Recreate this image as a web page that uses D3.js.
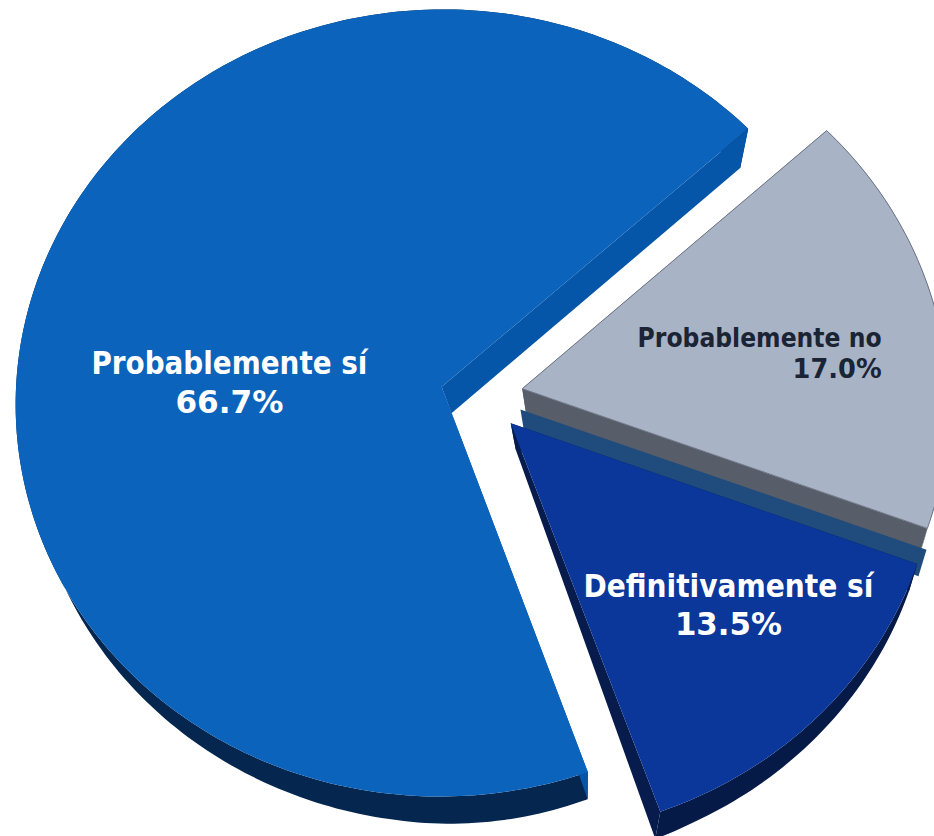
<!DOCTYPE html>
<html>
<head>
<meta charset="utf-8">
<script src="https://cdn.jsdelivr.net/npm/d3@7"></script>
<style>
html,body{margin:0;padding:0;background:#fff;}
svg{display:block;}
.lbl{font-family:Tahoma,"DejaVu Sans",sans-serif;font-weight:bold;}
</style>
</head>
<body>
<div id="chart"></div>
<script>
// data
const categories=['Probablemente sí','Probablemente no','Definitivamente no','Definitivamente sí'];
const values=[66.7,17.0,0,13.5];
const valueLabels=['66.7%','17.0%','','13.5%'];

// styles
const topColors=['#0b63bb','#a8b3c5','#1f4b7d','#0a3799'];
const wallColors=['#0556a9','#585e69','#1f4b7d','#071c4d'];
const rimColors=['#04264f','#5a606b','#1f4b7d','#061a48'];

const W=934,H=836;
const K=426,CX=481.7,CY=396,SINP=0.924,COSP=Math.sqrt(1-SINP*SINP),DIST=9.27,TH=0.16,EXPLODE=0.097;
const START=160.5*Math.PI/180;

// perspective-ish projection: X right, Y towards viewer, Z up
function proj(X,Y,Z){
  const w=1-Y*COSP/DIST, f=Z<0?-Z/TH:0;
  const sx=Math.max(-8,Math.min(14,30*(0.233-X)))*f, sy=20*Math.max(0,-Y)*f;
  return [CX+K*X/w+sx,CY+K*(Y*SINP-Z*COSP)/w+sy];
}

const rows=categories.map((c,i)=>({c,v:values[i],lab:valueLabels[i],i}));
const arcs=d3.pie().sort(null).value(d=>d.v).startAngle(START).endAngle(START+2*Math.PI)(rows);

const svg=d3.select('#chart').append('svg').attr('width',W).attr('height',H).attr('viewBox',`0 0 ${W} ${H}`);
const poly=d3.line().curve(d3.curveLinearClosed);

arcs.forEach(a=>{
  const mid=(a.startAngle+a.endAngle)/2;
  a.ox=EXPLODE*Math.sin(mid);a.oy=-EXPLODE*Math.cos(mid);
  a.pt=(ang,r,z)=>proj(a.ox+r*Math.sin(ang),a.oy-r*Math.cos(ang),z);
  a.depth=a.oy-0.5*Math.cos(mid);
  a.mid=mid;
});

const order=arcs.slice().sort((p,q)=>p.depth-q.depth);
order.forEach(a=>{
  const i=a.data.i,s=a.startAngle,e=a.endAngle;
  const g=svg.append('g');
  const wall=ang=>[a.pt(ang,0,0),a.pt(ang,1,0),a.pt(ang,1,-TH),a.pt(ang,0,-TH)];
  if(e-s<1e-6){
    g.append('path').attr('d',poly(wall(s))).attr('fill',wallColors[i]);
    return;
  }
  const n=Math.max(2,Math.ceil((e-s)/(Math.PI/180)));
  const angs=d3.range(n+1).map(k=>s+(e-s)*k/n);
  const rim=[...angs.map(t=>a.pt(t,1,0)),...angs.slice().reverse().map(t=>a.pt(t,1,-TH))];
  g.append('path').attr('d',poly(rim)).attr('fill',rimColors[i]);
  g.append('path').attr('d',poly(wall(s))).attr('fill',wallColors[i]);
  g.append('path').attr('d',poly(wall(e))).attr('fill',wallColors[i]);
  const top=[a.pt(0,0,0),...angs.map(t=>a.pt(t,1,0))];
  g.append('path').attr('d',poly(top)).attr('fill',topColors[i])
    .attr('stroke',i===1?'#6d7588':'none').attr('stroke-width',1);
});

// labels
const labelCfg={
  'Probablemente sí':{r:0.5,anchor:'middle',dx:-7,lines:[35,74],size:32,fill:'#fff',len:[276,108]},
  'Probablemente no':{r:0.6,anchor:'end',dx:110,lines:[3,34],size:26,fill:'#1b2434',len:[244,89]},
  'Definitivamente sí':{r:0.7,anchor:'middle',dx:3,lines:[-28,10],size:32,fill:'#fff',len:[290,107]}
};
arcs.filter(a=>a.data.v>0).forEach(a=>{
  const cfg=labelCfg[a.data.c];
  const p=a.pt(a.mid,cfg.r,0);
  [a.data.c,a.data.lab].forEach((t,k)=>{
    svg.append('text').attr('class','lbl')
      .attr('x',p[0]+cfg.dx).attr('y',p[1]+cfg.lines[k])
      .attr('text-anchor',cfg.anchor).attr('font-size',cfg.size).attr('fill',cfg.fill)
      .attr('textLength',cfg.len[k]).attr('lengthAdjust','spacingAndGlyphs')
      .text(t);
  });
});
</script>
</body>
</html>
